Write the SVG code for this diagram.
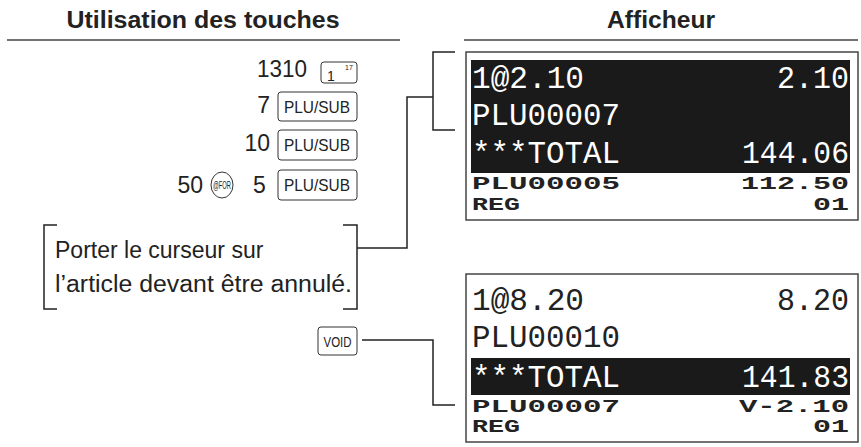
<svg xmlns="http://www.w3.org/2000/svg" width="861" height="447" viewBox="0 0 861 447">
<style>
.h{font-family:"Liberation Sans",Arial,sans-serif;font-weight:bold;font-size:23px;fill:#222;text-anchor:middle}
.t{font-family:"Liberation Sans",Arial,sans-serif;font-size:23px;fill:#222}
.k{font-family:"Liberation Sans",Arial,sans-serif;font-size:17px;fill:#222;text-anchor:middle}
.key{fill:#fff;stroke:#333;stroke-width:1}
.ln{fill:none;stroke:#222;stroke-width:1.5}
.big{font-family:"Liberation Mono","DejaVu Sans Mono",monospace;font-size:32px}
.sm{font-family:"Liberation Mono","DejaVu Sans Mono",monospace;font-weight:bold;font-size:19px}
.w{fill:#fff}.b{fill:#222}
.r{text-anchor:end}
</style>
<g id="headers">
<text class="h" x="203" y="28" textLength="273" lengthAdjust="spacingAndGlyphs">Utilisation des touches</text>
<text class="h" x="661" y="28" textLength="108" lengthAdjust="spacingAndGlyphs">Afficheur</text>
<line x1="7" y1="40" x2="400" y2="40" stroke="#444" stroke-width="1.5"/>
<line x1="464" y1="40" x2="858" y2="40" stroke="#444" stroke-width="1.5"/>
</g>
<g id="keys">
<text class="t r" x="307" y="77" textLength="50" lengthAdjust="spacingAndGlyphs">1310</text>
<rect class="key" x="321" y="62" width="36" height="21" rx="3"/>
<text x="327" y="81" style="font-family:'Liberation Sans',sans-serif;font-size:14px;fill:#222">1</text>
<text x="345" y="70" style="font-family:'Liberation Sans',sans-serif;font-size:7px;fill:#222">17</text>
<text class="t r" x="270" y="113">7</text>
<rect class="key" x="278" y="92" width="79" height="29" rx="3"/>
<text class="k" x="317" y="113" textLength="66" lengthAdjust="spacingAndGlyphs">PLU/SUB</text>
<text class="t r" x="270" y="151">10</text>
<rect class="key" x="278" y="130" width="79" height="30" rx="3"/>
<text class="k" x="317" y="151" textLength="66" lengthAdjust="spacingAndGlyphs">PLU/SUB</text>
<text class="t r" x="203" y="193">50</text>
<ellipse class="key" cx="222" cy="185" rx="11" ry="13"/>
<text x="222" y="189" textLength="18" lengthAdjust="spacingAndGlyphs" style="font-family:'Liberation Sans',sans-serif;font-size:10px;fill:#222;text-anchor:middle">@FOR</text>
<text class="t" x="253" y="193">5</text>
<rect class="key" x="278" y="170" width="79" height="30" rx="3"/>
<text class="k" x="317" y="191" textLength="66" lengthAdjust="spacingAndGlyphs">PLU/SUB</text>
<rect class="key" x="318" y="327" width="39" height="28" rx="3"/>
<text class="k" x="337.5" y="347" textLength="28" lengthAdjust="spacingAndGlyphs" style="font-size:15px">VOID</text>
</g>
<g id="note">
<text class="t" x="55" y="258">Porter le curseur sur</text>
<text class="t" x="55" y="292" textLength="297" lengthAdjust="spacingAndGlyphs">l’article devant être annulé.</text>
<polyline class="ln" points="57,225 44,225 44,309 57,309"/>
<polyline class="ln" points="343,225 357,225 357,309 343,309"/>
</g>
<g id="connectors">
<polyline class="ln" points="357,248 407,248 407,97 433,97"/>
<polyline class="ln" points="455,52 433,52 433,130 455,130"/>
<polyline class="ln" points="362,340 433,340 433,405 455,405"/>
</g>
<g id="display1">
<rect x="466" y="52" width="392" height="168" fill="#fff" stroke="#444" stroke-width="1.5"/>
<rect x="471" y="60" width="379" height="113" fill="#1a1a1a"/>
<text class="big w" x="472" y="88" textLength="112" lengthAdjust="spacingAndGlyphs">1@2.10</text>
<text class="big w r" x="849" y="88" textLength="72" lengthAdjust="spacingAndGlyphs">2.10</text>
<text class="big w" x="472" y="125" textLength="148" lengthAdjust="spacingAndGlyphs">PLU00007</text>
<text class="big w" x="472" y="163" textLength="148" lengthAdjust="spacingAndGlyphs">***TOTAL</text>
<text class="big w r" x="849" y="163" textLength="107" lengthAdjust="spacingAndGlyphs">144.06</text>
<text class="sm b" x="472" y="189" textLength="148" lengthAdjust="spacingAndGlyphs">PLU00005</text>
<text class="sm b r" x="849" y="189" textLength="108" lengthAdjust="spacingAndGlyphs">112.50</text>
<text class="sm b" x="472" y="210" textLength="48" lengthAdjust="spacingAndGlyphs">REG</text>
<text class="sm b r" x="849" y="210" textLength="36" lengthAdjust="spacingAndGlyphs">01</text>
</g>
<g id="display2">
<rect x="466" y="274" width="392" height="168" fill="#fff" stroke="#444" stroke-width="1.5"/>
<text class="big b" x="472" y="310" textLength="112" lengthAdjust="spacingAndGlyphs">1@8.20</text>
<text class="big b r" x="849" y="310" textLength="72" lengthAdjust="spacingAndGlyphs">8.20</text>
<text class="big b" x="472" y="347" textLength="148" lengthAdjust="spacingAndGlyphs">PLU00010</text>
<rect x="471" y="358" width="379" height="37" fill="#1a1a1a"/>
<text class="big w" x="472" y="387" textLength="148" lengthAdjust="spacingAndGlyphs">***TOTAL</text>
<text class="big w r" x="849" y="387" textLength="107" lengthAdjust="spacingAndGlyphs">141.83</text>
<text class="sm b" x="472" y="412" textLength="148" lengthAdjust="spacingAndGlyphs">PLU00007</text>
<text class="sm b r" x="849" y="412" textLength="110" lengthAdjust="spacingAndGlyphs">V-2.10</text>
<text class="sm b" x="472" y="432" textLength="48" lengthAdjust="spacingAndGlyphs">REG</text>
<text class="sm b r" x="849" y="432" textLength="36" lengthAdjust="spacingAndGlyphs">01</text>
</g>
</svg>
